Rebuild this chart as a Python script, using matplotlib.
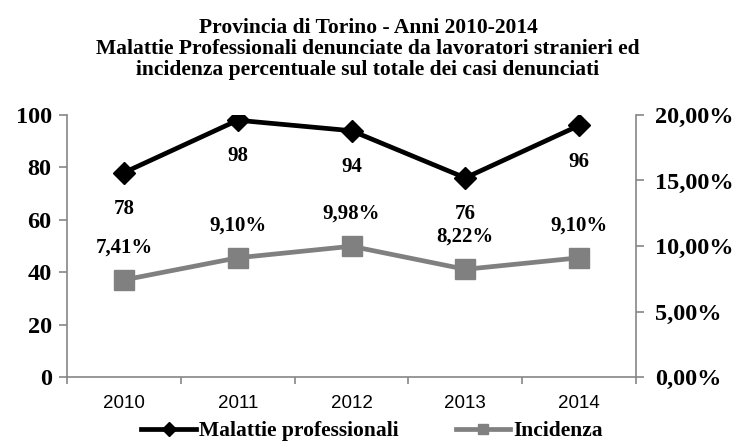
import matplotlib
matplotlib.use("Agg")
import matplotlib.pyplot as plt
from matplotlib.ticker import FuncFormatter, FixedLocator

years = ["2010", "2011", "2012", "2013", "2014"]
malattie = [78, 98, 94, 76, 96]
incidenza = [7.41, 9.10, 9.98, 8.22, 9.10]
title = ("Provincia di Torino - Anni 2010-2014\n"
         "Malattie Professionali denunciate da lavoratori stranieri ed\n"
         "incidenza percentuale sul totale dei casi denunciati")

serif = "Liberation Serif"
sans = "Liberation Sans"
axc = "#868686"
plt.rcParams["font.family"] = [serif, "DejaVu Serif"]
plt.rcParams["font.weight"] = "bold"

fig = plt.figure(figsize=(7.36, 4.42), dpi=100)
ax = fig.add_axes([67/736, 1-377/442, (636-67)/736, (377-115)/442])
ax2 = ax.twinx()

x = list(range(len(years)))
ax.plot(x, malattie, color="black", lw=3.4, marker="D", ms=11, zorder=3,
        label="Malattie professionali")
ax2.plot(x, incidenza, color="#808080", lw=3.4, marker="s", ms=14, zorder=3,
         label="Incidenza")

ax.set_xlim(-0.5, len(years)-0.5)
ax.set_ylim(0, 100)
ax2.set_ylim(0, 20)
ax.set_yticks(range(0, 101, 20))
ax2.set_yticks([0, 5, 10, 15, 20])
ax2.yaxis.set_major_formatter(FuncFormatter(lambda v, p: f"{v:.2f}%".replace(".", ",")))

ax.set_xticks(x)
ax.set_xticklabels(years, fontfamily=sans, fontweight="normal", fontsize=13.5)
ax.xaxis.set_minor_locator(FixedLocator([i+0.5 for i in range(-1, len(years))]))
ax.tick_params(axis="x", which="major", length=0, pad=13)
ax.tick_params(axis="x", which="minor", length=5, color=axc, width=1.2, direction="out")

for a in (ax, ax2):
    for s in a.spines.values():
        s.set_visible(False)
ax.spines["left"].set_visible(True)
ax.spines["bottom"].set_visible(True)
ax2.spines["right"].set_visible(True)
for s in (ax.spines["left"], ax.spines["bottom"], ax2.spines["right"]):
    s.set_color(axc)
    s.set_linewidth(1.2)

ax.tick_params(axis="y", length=6, color=axc, width=1.2, pad=5)
ax2.tick_params(axis="y", length=6, color=axc, width=1.2, pad=8)
for lab in ax.get_yticklabels() + ax2.get_yticklabels():
    lab.set_fontfamily(serif)
    lab.set_fontweight("bold")
    lab.set_fontsize(17.5)

for i, v in enumerate(malattie):
    ax.annotate(str(v), (i, v), xytext=(0, -26), textcoords="offset points",
                ha="center", va="center", fontfamily=serif, fontweight="bold", fontsize=15)
for i, v in enumerate(incidenza):
    ax2.annotate(f"{v:.2f}%".replace(".", ","), (i, v), xytext=(0, 23.5),
                 textcoords="offset points", ha="center", va="center",
                 fontfamily=serif, fontweight="bold", fontsize=15)

fig.text(0.5, 1-49/442, title, ha="center", va="center", fontfamily=serif,
         fontweight="bold", fontsize=15.5, linespacing=1.05)

h1, l1 = ax.get_legend_handles_labels()
h2, l2 = ax2.get_legend_handles_labels()
leg = fig.legend(h1+h2, l1+l2, loc="center", bbox_to_anchor=(372/736, 1-431/442),
                 ncol=2, frameon=False, handlelength=2.55, handletextpad=0.12,
                 columnspacing=2.65, borderpad=0, fontsize=15.5)
for t in leg.get_texts():
    t.set_fontfamily(serif)
    t.set_fontweight("bold")
for lh in leg.legend_handles:
    lh.set_markersize(7)

fig.savefig("out.png", dpi=100)
